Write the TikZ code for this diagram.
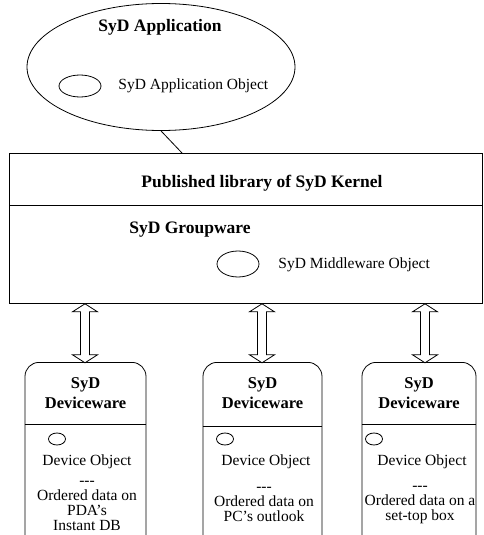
\documentclass[tikz,border=0pt]{standalone}
\usepackage{fontspec}
\setmainfont{Liberation Serif}
\usetikzlibrary{shapes.geometric}

\tikzset{
  head/.style={font=\fontsize{17.5}{20}\selectfont\bfseries, inner sep=0pt},
  devhead/.style={font=\fontsize{16.5}{20}\selectfont\bfseries, inner sep=0pt, align=center},
  txt/.style={font=\fontsize{15.5}{15}\selectfont, inner sep=0pt, align=center},
  obj/.style={draw, ellipse, inner sep=0pt},
  devbox/.style={draw, rounded corners=14pt, anchor=north, minimum height=190pt, inner sep=0pt},
  linkarrow/.style={draw, fill=white}
}

\begin{document}
\begin{tikzpicture}[x=1pt, y=-1pt, line width=0.8pt]
\useasboundingbox (0,0) rectangle (484,535);
\clip (0,0) rectangle (484,535);
% application
\node[obj, minimum width=268pt, minimum height=127pt] (app) at (161,67) {};
\node[head] (apphead) at (160,27) {SyD Application};
\node[obj, minimum width=42pt, minimum height=22pt] (appobj) at (80,86) {};
\node[txt, anchor=west] (applbl) at (118,86) {SyD Application Object};
% kernel
\node[draw, anchor=north west, minimum width=473pt, minimum height=150pt, inner sep=0pt] (kernel) at (9,153) {};
\draw (kernel.west |- 0,205) -- (kernel.east |- 0,205);
\node[head] (klib) at (262,183) {Published library of SyD Kernel};
\node[head] (grp) at (190,230) {SyD Groupware};
\node[obj, minimum width=42pt, minimum height=26pt] (mwobj) at (238,264) {};
\node[txt, anchor=west] (mwlbl) at (278,265) {SyD Middleware Object};
\draw (app.south) -- ([xshift=173pt]kernel.north west);
% devices
\node[devbox, minimum width=121pt] (dev1) at (85.5,362) {};
\node[devbox, minimum width=119pt] (dev2) at (262.5,362) {};
\node[devbox, minimum width=114pt] (dev3) at (419,362) {};
\foreach \d/\ex/\ox/\dy in {dev1/57/87/424, dev2/225/266/426, dev3/374/422/424} {
  \draw (\d.west |- 0,\dy) -- (\d.east |- 0,\dy);
  \node[devhead] (\d head) at (\d.north |- 0,393) {SyD\\Deviceware};
  \node[obj, minimum width=17pt, minimum height=12pt] (\d obj) at (\ex,439) {};
  \node[txt] (\d lbl) at (\ox,462) {Device Object};
}
\node[txt] (dev1data) at (87,505.5) {-{}-{}-\\Ordered data on\\PDA’s\\Instant DB};
\node[txt] (dev2data) at (264,504) {-{}-{}-\\Ordered data on\\PC’s outlook};
\node[txt] (dev3data) at (420,505) {-{}-{}-\\Ordered data on a\\set-top box};
% links kernel <-> devices
\foreach \x/\d in {85/dev1, 262/dev2, 425/dev3} {
  \coordinate (\d up) at (\x,0 |- kernel.south);
  \draw[linkarrow] (\d up) -- ++(12.5,8) -- ++(-8,0) -- ++(0,43) -- ++(8,0)
    -- ++(-12.5,8) -- ++(-12.5,-8) -- ++(8,0) -- ++(0,-43) -- ++(-8,0) -- cycle;
}
\end{tikzpicture}
\end{document}
